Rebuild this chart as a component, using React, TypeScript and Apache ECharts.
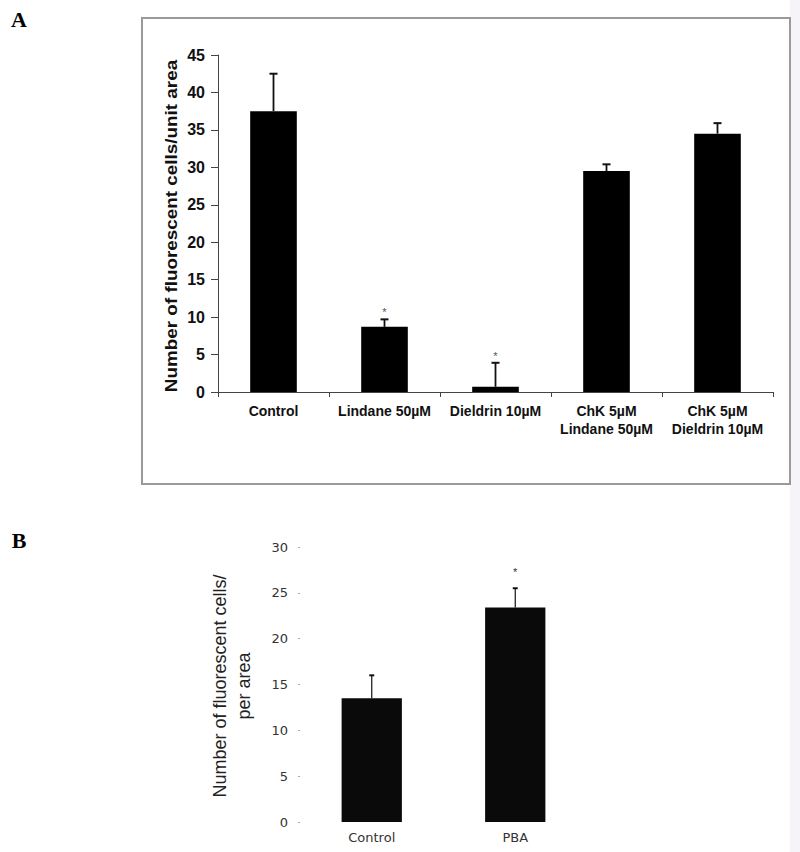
import React, { useEffect, useRef } from "react";
import * as echarts from "echarts";

const categoriesA = ["Control", "Lindane 50µM", "Dieldrin 10µM", "ChK 5µM\nLindane 50µM", "ChK 5µM\nDieldrin 10µM"];
const meansA = [37.5, 8.7, 0.7, 29.5, 34.5];
const errorsA = [5.0, 1.0, 3.2, 0.9, 1.4];
const significantA = [0, 1, 1, 0, 0];

const categoriesB = ["Control", "PBA"];
const meansB = [13.5, 23.4];
const errorsB = [2.5, 2.1];
const significantB = [0, 1];

const titleA = "Number of fluorescent cells/unit area";
const titleB = "Number of fluorescent cells/\nper area";

function errorSeries(xi: number, yi: number, means: number[], errs: number[], sig: number[], starGap: number, starColor: string, capHalf: number, stemW: number) {
  return {
    type: "custom",
    xAxisIndex: xi,
    yAxisIndex: yi,
    z: 5,
    data: means.map((m, i) => [i, m, errs[i], sig[i]]),
    encode: { x: 0, y: 1 },
    renderItem: (params: any, api: any) => {
      const i = api.value(0);
      const m = api.value(1);
      const e = api.value(2);
      const s = api.value(3);
      const base = api.coord([i, m]);
      const tip = api.coord([i, m + e]);
      const children: any[] = [
        { type: "line", shape: { x1: base[0], y1: base[1], x2: tip[0], y2: tip[1] }, style: { stroke: "#111", lineWidth: stemW } },
        { type: "line", shape: { x1: tip[0] - capHalf, y1: tip[1], x2: tip[0] + capHalf, y2: tip[1] }, style: { stroke: "#111", lineWidth: 2 } },
      ];
      if (s) {
        children.push({
          type: "text",
          x: tip[0],
          y: tip[1] - starGap,
          style: { text: "*", fontSize: 11, fill: starColor, align: "center", verticalAlign: "middle", fontFamily: "Liberation Sans, Arial" },
        });
      }
      return { type: "group", children };
    },
  };
}

export default function App() {
  const ref = useRef<HTMLDivElement>(null);
  useEffect(() => {
    const chart = echarts.init(ref.current!, null, { renderer: "svg" });
    const font = "Liberation Sans, Arial, sans-serif";
    const fontB = "DejaVu Sans, sans-serif";
    chart.setOption({
      animation: false,
      backgroundColor: "#ffffff",
      grid: [
        { left: 218, top: 55, right: 27, bottom: 460, outerBoundsMode: "none", containLabel: false },
        { left: 300, top: 547, right: 213, bottom: 30, outerBoundsMode: "none", containLabel: false },
      ],
      xAxis: [
        {
          type: "category",
          gridIndex: 0,
          data: categoriesA,
          axisLine: { lineStyle: { color: "#444", width: 1 } },
          axisTick: { show: true, alignWithLabel: false, length: 5, lineStyle: { color: "#444" } },
          axisLabel: { fontSize: 14, fontWeight: "bold", color: "#111", fontFamily: font, margin: 10, lineHeight: 18, interval: 0 },
        },
        {
          type: "category",
          gridIndex: 1,
          data: categoriesB,
          axisLine: { show: false },
          axisTick: { show: false },
          axisLabel: { fontSize: 13, color: "#333", fontFamily: fontB, margin: 9 },
        },
      ],
      yAxis: [
        {
          type: "value",
          gridIndex: 0,
          min: 0,
          max: 45,
          interval: 5,
          splitLine: { show: false },
          axisLine: { show: true, lineStyle: { color: "#444", width: 1 } },
          axisTick: { show: true, length: 7, lineStyle: { color: "#444" } },
          axisLabel: { fontSize: 16, fontWeight: "bold", color: "#111", fontFamily: font, margin: 13 },
        },
        {
          type: "value",
          gridIndex: 1,
          min: 0,
          max: 30,
          interval: 5,
          splitLine: { show: false },
          axisLine: { show: false },
          axisTick: { show: true, length: 2, lineStyle: { color: "#aaa" } },
          axisLabel: { fontSize: 13, color: "#333", fontFamily: fontB, margin: 12 },
        },
      ],
      series: [
        { type: "bar", xAxisIndex: 0, yAxisIndex: 0, data: meansA, barWidth: "42%", itemStyle: { color: "#000" } },
        errorSeries(0, 0, meansA, errorsA, significantA, 7, "#555", 4, 1.8),
        { type: "bar", xAxisIndex: 1, yAxisIndex: 1, data: meansB, barWidth: "42%", itemStyle: { color: "#0a0a0a" } },
        errorSeries(1, 1, meansB, errorsB, significantB, 16, "#333", 2.5, 1.2),
      ],
      graphic: [
        { type: "rect", shape: { x: 790, y: 0, width: 10, height: 852 }, style: { fill: "#f7f4f9" }, z: -1 },
        { type: "rect", shape: { x: 142, y: 18, width: 648, height: 466 }, style: { fill: "none", stroke: "#9a9a9a", lineWidth: 2 }, z: -1 },
        { type: "text", x: 19, y: 19, style: { text: "A", fontSize: 22, fontWeight: "bold", fontFamily: "Liberation Serif, Times New Roman, serif", fill: "#000", align: "center", verticalAlign: "middle" } },
        { type: "text", x: 19, y: 540, style: { text: "B", fontSize: 22, fontWeight: "bold", fontFamily: "Liberation Serif, Times New Roman, serif", fill: "#000", align: "center", verticalAlign: "middle" } },
        { type: "text", x: 172, y: 226, rotation: Math.PI / 2, scaleX: 1.18, style: { text: titleA, fontSize: 16, fontWeight: "bold", fontFamily: font, fill: "#111", align: "center", verticalAlign: "middle" } },
        { type: "text", x: 232, y: 686, rotation: Math.PI / 2, style: { text: titleB, fontSize: 18, fontFamily: font, fill: "#222", align: "center", verticalAlign: "middle", lineHeight: 24 } },
      ],
    });
    return () => chart.dispose();
  }, []);
  return <div ref={ref} style={{ position: "absolute", left: 0, top: 0, width: 800, height: 852 }} />;
}
